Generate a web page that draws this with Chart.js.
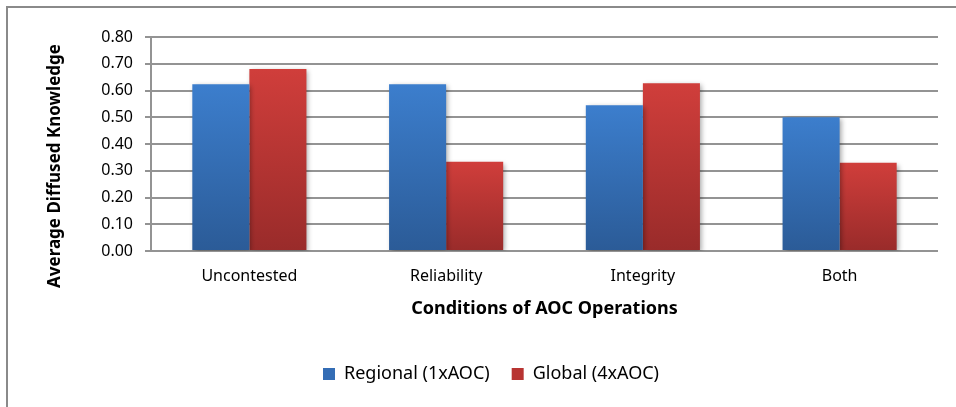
<!DOCTYPE html>
<html>
<head>
<meta charset="utf-8">
<script src="https://cdn.jsdelivr.net/npm/chart.js@4/dist/chart.umd.min.js"></script>
<style>
  body { margin: 0; background: #fff; }
  #frame {
    position: absolute; left: 6px; top: 6px; width: 960px; height: 410px;
    border-left: 2px solid #8a8a8a; border-top: 2px solid #8a8a8a;
  }
  #wrap { position: absolute; left: 0; top: 0; width: 956px; height: 407px; }
</style>
</head>
<body>
<div id="frame"></div>
<div id="wrap"><canvas id="chart"></canvas></div>
<script>
const categories = ['Uncontested', 'Reliability', 'Integrity', 'Both'];
const regional = [0.623, 0.623, 0.545, 0.50];
const global = [0.680, 0.334, 0.627, 0.33];
const seriesNames = ['Regional (1xAOC)', 'Global (4xAOC)'];

const FONT = "'Noto Sans', sans-serif";

// vertical gradient per bar, from its top down to zero
const barGradient = (top, bottom) => (ctx) => {
  const chart = ctx.chart;
  const y = chart.scales.y;
  if (!y || ctx.raw === undefined) return top;
  const y0 = y.getPixelForValue(ctx.raw);
  const y1 = y.getPixelForValue(0);
  if (!isFinite(y0) || !isFinite(y1) || y0 === y1) return top;
  const g = chart.ctx.createLinearGradient(0, y0, 0, y1);
  g.addColorStop(0, top);
  g.addColorStop(1, bottom);
  return g;
};

// soft shadow behind the bars
const barShadow = {
  id: 'barShadow',
  beforeDatasetsDraw(chart) {
    const c = chart.ctx;
    c.save();
    c.shadowColor = 'rgba(0,0,0,0.35)';
    c.shadowBlur = 5;
    c.shadowOffsetX = 2;
    c.shadowOffsetY = 2;
  },
  afterDatasetsDraw(chart) {
    chart.ctx.restore();
  },
};

// y axis title, placed where the original has it
const yTitle = {
  id: 'yTitle',
  afterDraw(chart) {
    const c = chart.ctx;
    c.save();
    c.translate(55, 166);
    c.rotate(-Math.PI / 2);
    c.font = 'bold 17px ' + FONT;
    c.fillStyle = '#000';
    c.textAlign = 'center';
    c.textBaseline = 'middle';
    c.fillText('Average Diffused Knowledge', 0, 0);
    c.restore();
  },
};

new Chart(document.getElementById('chart'), {
  type: 'bar',
  data: {
    labels: categories,
    datasets: [
      {
        label: seriesNames[0],
        data: regional,
        backgroundColor: barGradient('#3c7ecd', '#2b5b97'),
      },
      {
        label: seriesNames[1],
        data: global,
        backgroundColor: barGradient('#d03e3b', '#992b2a'),
      },
    ],
  },
  plugins: [barShadow, yTitle],
  options: {
    responsive: true,
    maintainAspectRatio: false,
    animation: false,
    layout: { padding: { left: 44, right: 18, top: 37, bottom: 14 } },
    datasets: {
      bar: { barPercentage: 1, categoryPercentage: 0.58 },
    },
    scales: {
      x: {
        grid: { display: false },
        border: { display: false },
        ticks: { color: '#000', font: { family: FONT, size: 16 }, padding: 8 },
        title: {
          display: true,
          text: 'Conditions of AOC Operations',
          color: '#000',
          font: { family: FONT, size: 18, weight: 'bold' },
          padding: { top: 10, bottom: 23 },
        },
        afterFit(scale) { scale.height = 92; },
      },
      y: {
        min: 0,
        max: 0.8,
        ticks: {
          stepSize: 0.1,
          color: '#000',
          font: { family: FONT, size: 16 },
          padding: 12,
          callback: (v) => v.toFixed(2),
        },
        grid: { color: '#939393', lineWidth: 2, tickLength: 6 },
        border: { color: '#939393', width: 2 },
        afterFit(scale) { scale.width = 107; },
      },
    },
    plugins: {
      legend: {
        position: 'bottom',
        labels: {
          color: '#000',
          font: { family: FONT, size: 18 },
          boxWidth: 12,
          boxHeight: 12,
          padding: 22,
          generateLabels: (chart) => seriesNames.map((name, i) => ({
            text: name,
            fillStyle: ['#346db5', '#b83432'][i],
            strokeStyle: 'rgba(0,0,0,0)',
            lineWidth: 0,
            datasetIndex: i,
          })),
        },
      },
      tooltip: { enabled: false },
    },
  },
});
</script>
</body>
</html>
